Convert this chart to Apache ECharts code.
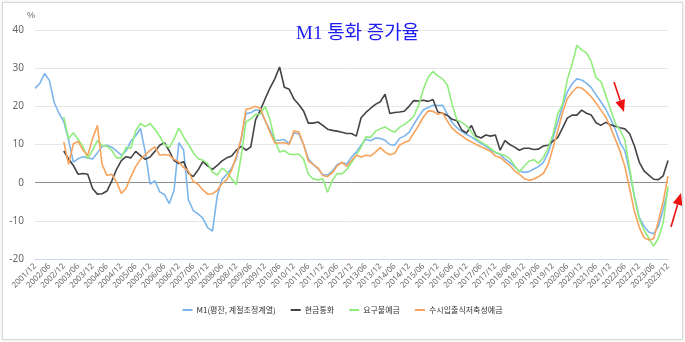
<!DOCTYPE html>
<html><head><meta charset="utf-8">
<script src="https://cdn.jsdelivr.net/npm/echarts@6/dist/echarts.min.js"></script>
<style>
html,body{margin:0;padding:0;background:#fff;}
#wrap{position:relative;width:685px;height:342px;}
#chart{position:absolute;left:0;top:0;width:685px;height:342px;}
#frame{position:absolute;left:2px;top:2px;width:679px;height:336px;border:1px solid #d8d8d8;box-shadow:0 0 3px rgba(0,0,0,0.12);pointer-events:none;}
</style></head>
<body>
<div id="wrap"><div id="chart"></div><div id="frame"></div></div>
<script>
// bimonthly categories 2001/12 .. 2023/12
const categories = [];
(function(){ let y = 2001, m = 12; while (y < 2023 || (y === 2023 && m <= 12)) { categories.push(y + '/' + (m < 10 ? '0' + m : m)); m += 2; if (m > 12) { m -= 12; y += 1; } } })();

const seriesNames = ['M1(평잔, 계절조정계열)', '현금통화', '요구불예금', '수시입출식저축성예금'];

const m1Values = [24.7,26.0,28.6,26.8,21.0,18.2,16.0,11.2,5.4,6.3,6.8,6.5,6.2,7.8,9.5,9.8,9.3,8.3,7.2,8.3,
10.9,12.3,14.2,8.0,-0.4,0.5,-2.4,-3.1,-5.5,-2.0,10.5,8.5,-4.5,-7.3,-8.2,-9.3,-11.8,-12.7,-3.5,0.8,
2.2,3.8,6.3,11.5,18.1,18.3,19.1,18.9,16.2,13.8,11.1,11.1,11.3,10.3,13.0,12.8,10.0,6.2,4.8,3.7,
2.1,2.0,3.0,4.7,5.3,4.9,6.7,8.0,9.8,11.4,11.0,11.7,11.6,11.1,10.0,9.8,11.6,12.2,13.2,15.3,
17.3,19.1,19.7,20.3,20.2,20.3,17.9,15.7,14.4,13.4,12.6,12.0,11.1,10.3,9.5,8.6,7.9,7.4,6.2,5.3,
4.2,3.0,2.7,2.9,3.6,4.2,5.3,7.8,11.7,15.8,20.0,23.8,25.9,27.2,26.9,26.1,24.9,23.0,21.2,19.3,
16.8,14.0,10.5,8.4,2.8,-3.5,-9.1,-11.4,-12.9,-13.4,-11.5,-7.0,-1.8];

const cashValues = [null,null,null,null,null,null,8.3,6.2,4.5,2.2,2.4,2.2,-1.5,-3.0,-2.9,-2.2,0.4,3.5,5.8,6.8,
6.5,8.2,7.1,6.1,6.7,8.2,9.8,10.5,8.3,5.8,5.0,5.5,2.5,1.6,3.3,5.5,4.4,3.5,4.5,5.7,
6.5,7.0,8.5,9.5,8.5,9.4,16.5,19.0,22.0,24.8,27.2,30.3,25.0,24.5,21.9,20.5,18.8,15.6,15.6,15.9,
15.0,14.0,13.7,13.5,13.2,12.9,12.9,12.2,17.0,18.4,19.5,20.5,21.2,23.2,18.1,18.4,18.5,18.7,20.0,21.5,
21.4,21.6,21.3,21.8,18.5,18.2,17.6,16.6,16.2,13.8,13.0,15.0,12.2,11.7,12.5,12.2,12.5,8.5,11.0,10.0,
9.3,8.5,9.0,9.0,8.7,8.8,9.6,9.8,10.9,11.8,14.3,16.9,17.7,17.7,19.0,18.2,17.7,15.7,15.0,15.8,
15.2,14.8,14.4,14.1,12.8,9.6,5.4,3.1,2.0,0.9,0.8,1.8,5.8];

const demandValues = [null,null,null,null,null,null,17.2,11.5,13.1,11.3,9.5,6.3,8.5,11.0,9.7,9.6,8.5,6.5,6.5,9.3,
9.0,13.6,15.5,14.7,15.5,14.0,12.2,10.0,9.2,11.5,14.3,12.0,10.0,7.9,6.3,5.9,5.0,2.8,2.0,3.8,
2.8,1.0,-0.5,7.0,15.9,16.7,17.9,18.0,20.0,16.5,11.1,8.0,8.4,7.5,7.3,7.5,6.2,2.2,1.0,0.7,
1.0,-2.5,0.6,2.4,2.3,3.4,5.3,7.2,9.3,12.0,11.9,13.5,14.1,14.6,13.8,13.2,14.5,15.2,16.2,17.4,
20.3,24.5,27.7,29.1,28.0,27.2,25.5,20.5,16.4,15.8,14.9,13.3,11.5,10.7,9.9,9.0,8.0,7.5,7.1,6.3,
4.5,2.8,4.3,5.6,6.0,5.1,6.6,9.0,12.6,18.0,20.5,27.0,31.0,36.0,34.8,34.0,31.7,27.5,26.5,23.0,
19.3,15.5,13.8,11.2,3.8,-3.9,-9.5,-12.4,-14.5,-16.7,-14.5,-10.5,-1.0];

const savingsValues = [null,null,null,null,null,null,10.7,4.8,10.2,10.8,8.5,7.2,11.5,15.0,4.8,1.9,2.2,0.2,-2.8,-1.5,
1.6,4.2,6.1,7.3,8.5,9.4,7.2,7.4,7.2,6.1,5.4,4.0,3.0,0.3,-0.4,-1.9,-3.0,-2.9,-2.0,-0.2,
0.8,3.3,7.0,11.6,19.2,19.5,20.0,19.4,16.3,13.2,10.4,10.4,10.5,10.0,13.5,13.3,10.0,5.7,4.8,3.9,
1.9,1.6,2.6,4.4,5.3,4.3,5.8,7.2,6.7,7.2,7.0,8.0,9.2,8.0,7.3,7.7,9.8,10.5,11.0,13.0,
15.0,17.2,18.8,18.7,17.9,18.3,16.1,14.3,13.1,12.3,11.3,10.7,10.0,9.4,8.8,8.2,7.0,6.6,5.5,4.5,
3.1,2.2,1.1,0.6,0.9,1.6,2.4,4.7,9.1,13.5,18.3,22.0,23.7,25.0,24.8,23.8,22.5,20.9,19.0,17.2,
14.5,11.4,8.2,4.3,-1.6,-7.5,-11.7,-14.4,-15.0,-14.7,-10.0,-5.0,1.7];

const yTicks = { min: -20, max: 40, step: 10 };
const colors = ['#7cb5ec', '#434348', '#90ed7d', '#f7a35c'];

function arrow(tail, tip) {
  const dx = tip[0] - tail[0], dy = tip[1] - tail[1];
  const len = Math.sqrt(dx * dx + dy * dy), ux = dx / len, uy = dy / len;
  const hl = 12, hw = 5;
  const bx = tip[0] - ux * hl, by = tip[1] - uy * hl;
  return [
    { type: 'line', shape: { x1: tail[0], y1: tail[1], x2: bx, y2: by }, style: { stroke: '#ee1111', lineWidth: 1.6 }, z: 100 },
    { type: 'polygon', shape: { points: [[tip[0], tip[1]], [bx - uy * hw, by + ux * hw], [bx + uy * hw, by - ux * hw]] }, style: { fill: '#ee1111' }, z: 100 }
  ];
}

const chart = echarts.init(document.getElementById('chart'));
const dataSets = [m1Values, cashValues, demandValues, savingsValues];
chart.setOption({
  animation: false,
  color: colors,
  title: {
    text: 'M1 통화 증가율', left: 291, top: 20,
    textStyle: { color: '#1c1cf0', fontSize: 19, fontWeight: 'normal', fontFamily: '"Liberation Serif", "Noto Sans CJK KR", serif' }
  },
  grid: { left: 35, right: 17, top: 30, bottom: 83 },
  legend: {
    data: seriesNames, top: 301, left: 'center', icon: 'rect', itemWidth: 10, itemHeight: 2, itemGap: 15,
    textStyle: { fontSize: 8, color: '#333', fontFamily: '"Noto Sans CJK KR", sans-serif', padding: [0, 0, 0, -1] }
  },
  xAxis: {
    type: 'category', data: categories, boundaryGap: false,
    axisLine: { onZero: false, lineStyle: { color: '#ccd6eb' } },
    axisTick: { show: false },
    axisLabel: { interval: 2, rotate: 45, fontSize: 8, color: '#666', margin: 6, fontFamily: '"Noto Sans", sans-serif' },
    splitLine: { show: false }
  },
  yAxis: {
    type: 'value', min: yTicks.min, max: yTicks.max, interval: yTicks.step,
    name: '%', nameLocation: 'end', nameGap: 10,
    nameTextStyle: { color: '#666', fontSize: 9, align: 'right', padding: [0, 0, 0, 0] },
    axisLine: { show: false }, axisTick: { show: false },
    axisLabel: { color: '#666', fontSize: 10, margin: 11, fontFamily: '"Noto Sans", sans-serif' },
    splitLine: { lineStyle: { color: ['#ccd6eb', '#e6e6e6', '#8c8c8c', '#e6e6e6', '#e6e6e6', '#e6e6e6', '#e6e6e6'], width: 1 } }
  },
  series: dataSets.map((d, i) => ({
    name: seriesNames[i], type: 'line', data: d, showSymbol: false, symbol: 'none',
    lineStyle: { width: 1.6, color: colors[i] }, itemStyle: { color: colors[i] }, connectNulls: false
  })),
  graphic: [].concat(arrow([614, 82], [624, 112]), arrow([671, 227], [681, 193]))
});
</script>
</body></html>
